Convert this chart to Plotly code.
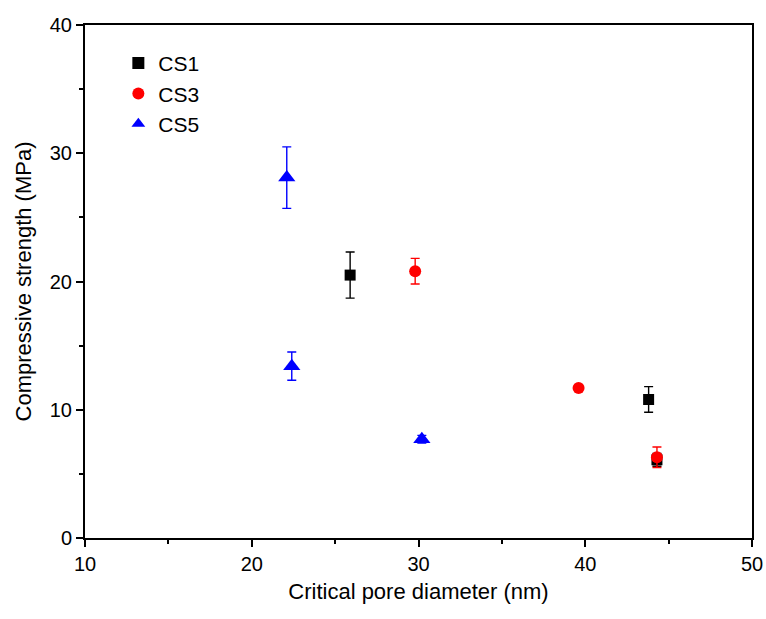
import plotly.graph_objects as go

cs1_x = [25.9, 43.8, 44.3]
cs1_y = [20.5, 10.8, 6.1]
cs1_err = [1.8, 1.0, 0.5]

cs3_x = [29.8, 39.6, 44.3]
cs3_y = [20.8, 11.7, 6.3]
cs3_err = [1.0, 0.2, 0.8]

cs5_x = [22.1, 22.4, 30.2]
cs5_y = [28.1, 13.4, 7.7]
cs5_err = [2.4, 1.1, 0.3]

series = [
    ("CS1", cs1_x, cs1_y, cs1_err, "black", "square", 11),
    ("CS3", cs3_x, cs3_y, cs3_err, "red", "circle", 12),
    ("CS5", cs5_x, cs5_y, cs5_err, "blue", "triangle-up", 15),
]

fig = go.Figure()
for name, x, y, e, c, sym, sz in series:
    fig.add_trace(go.Scatter(
        x=x, y=y, mode="markers", name=name,
        marker=dict(color=c, symbol=sym, size=sz),
        error_y=dict(type="data", array=e, color=c, thickness=1.4, width=4.5),
    ))

font = "Liberation Sans, Arial, sans-serif"
fig.update_layout(
    width=766, height=619,
    margin=dict(l=85, r=14, t=25, b=81),
    paper_bgcolor="white", plot_bgcolor="white",
    font=dict(family=font, size=19, color="black"),
    showlegend=True,
    legend=dict(x=0.05, y=0.965, xanchor="left", yanchor="top",
                bgcolor="rgba(0,0,0,0)", font=dict(size=21),
                itemsizing="constant", tracegroupgap=0),
)
fig.update_xaxes(
    range=[10, 50], tick0=10, dtick=10, showgrid=False, zeroline=False,
    showline=True, linecolor="black", linewidth=2, mirror=True,
    ticks="outside", ticklen=7, tickwidth=1.5, tickcolor="black",
    minor=dict(dtick=5, ticks="outside", ticklen=4, tickwidth=1.5, tickcolor="black"),
    title=dict(text="Critical pore diameter (nm)", font=dict(size=22), standoff=10),
    tickfont=dict(size=20), automargin=False,
)
fig.update_yaxes(
    range=[0, 40], tick0=0, dtick=10, showgrid=False, zeroline=False,
    showline=True, linecolor="black", linewidth=2, mirror=True,
    ticks="outside", ticklen=7, tickwidth=1.5, tickcolor="black",
    minor=dict(dtick=5, ticks="outside", ticklen=4, tickwidth=1.5, tickcolor="black"),
    title=dict(text="Compressive strength (MPa)", font=dict(size=22), standoff=12),
    tickfont=dict(size=20), automargin=False,
)
fig.write_html("out.html")
